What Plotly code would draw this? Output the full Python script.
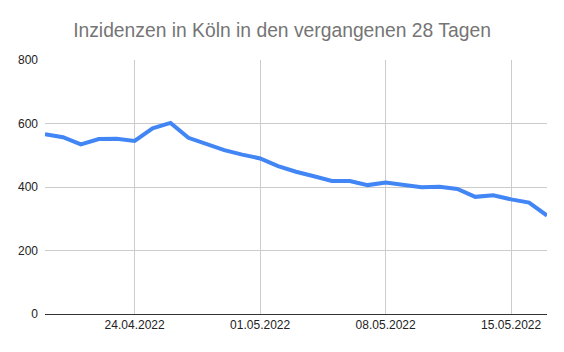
import plotly.graph_objects as go
import pandas as pd

dates = pd.date_range("2022-04-19", "2022-05-17", freq="D").strftime("%Y-%m-%d").tolist()
values = [566, 557, 534, 551, 552, 545, 585, 602, 555, 534, 516, 502, 490, 466,
          448, 434, 419, 419, 406, 414, 406, 399, 401, 394, 369, 374, 361, 351, 310]
tick_dates = ["2022-04-24", "2022-05-01", "2022-05-08", "2022-05-15"]
tick_labels = ["24.04.2022", "01.05.2022", "08.05.2022", "15.05.2022"]
y_ticks = [0, 200, 400, 600, 800]

fig = go.Figure()
fig.add_trace(go.Scatter(x=dates, y=values, mode="lines",
                         line=dict(color="#4285F4", width=4), hoverinfo="x+y"))

fig.update_layout(
    width=564, height=352,
    margin=dict(l=45, r=17, t=60, b=38),
    paper_bgcolor="white", plot_bgcolor="white",
    showlegend=False,
    font=dict(family="Liberation Sans, Arial, sans-serif", size=12, color="#222222"),
    title=dict(text="Inzidenzen in Köln in den vergangenen 28 Tagen",
               x=0.5, xanchor="center", y=0.915, yanchor="middle",
               font=dict(family="Liberation Sans, Arial, sans-serif", size=19.3, color="#757575")),
)
fig.update_xaxes(type="date", range=[dates[0], dates[-1]],
                 tickvals=tick_dates, ticktext=tick_labels,
                 showgrid=True, gridcolor="#cccccc", gridwidth=1,
                 showline=True, linecolor="#333333", linewidth=1,
                 ticks="", ticklen=0, zeroline=False)
fig.update_yaxes(range=[0, 800], tickvals=y_ticks,
                 showgrid=True, gridcolor="#cccccc", gridwidth=1,
                 zeroline=False, ticks="", ticklabelstandoff=6)

fig.write_html("out.html")
